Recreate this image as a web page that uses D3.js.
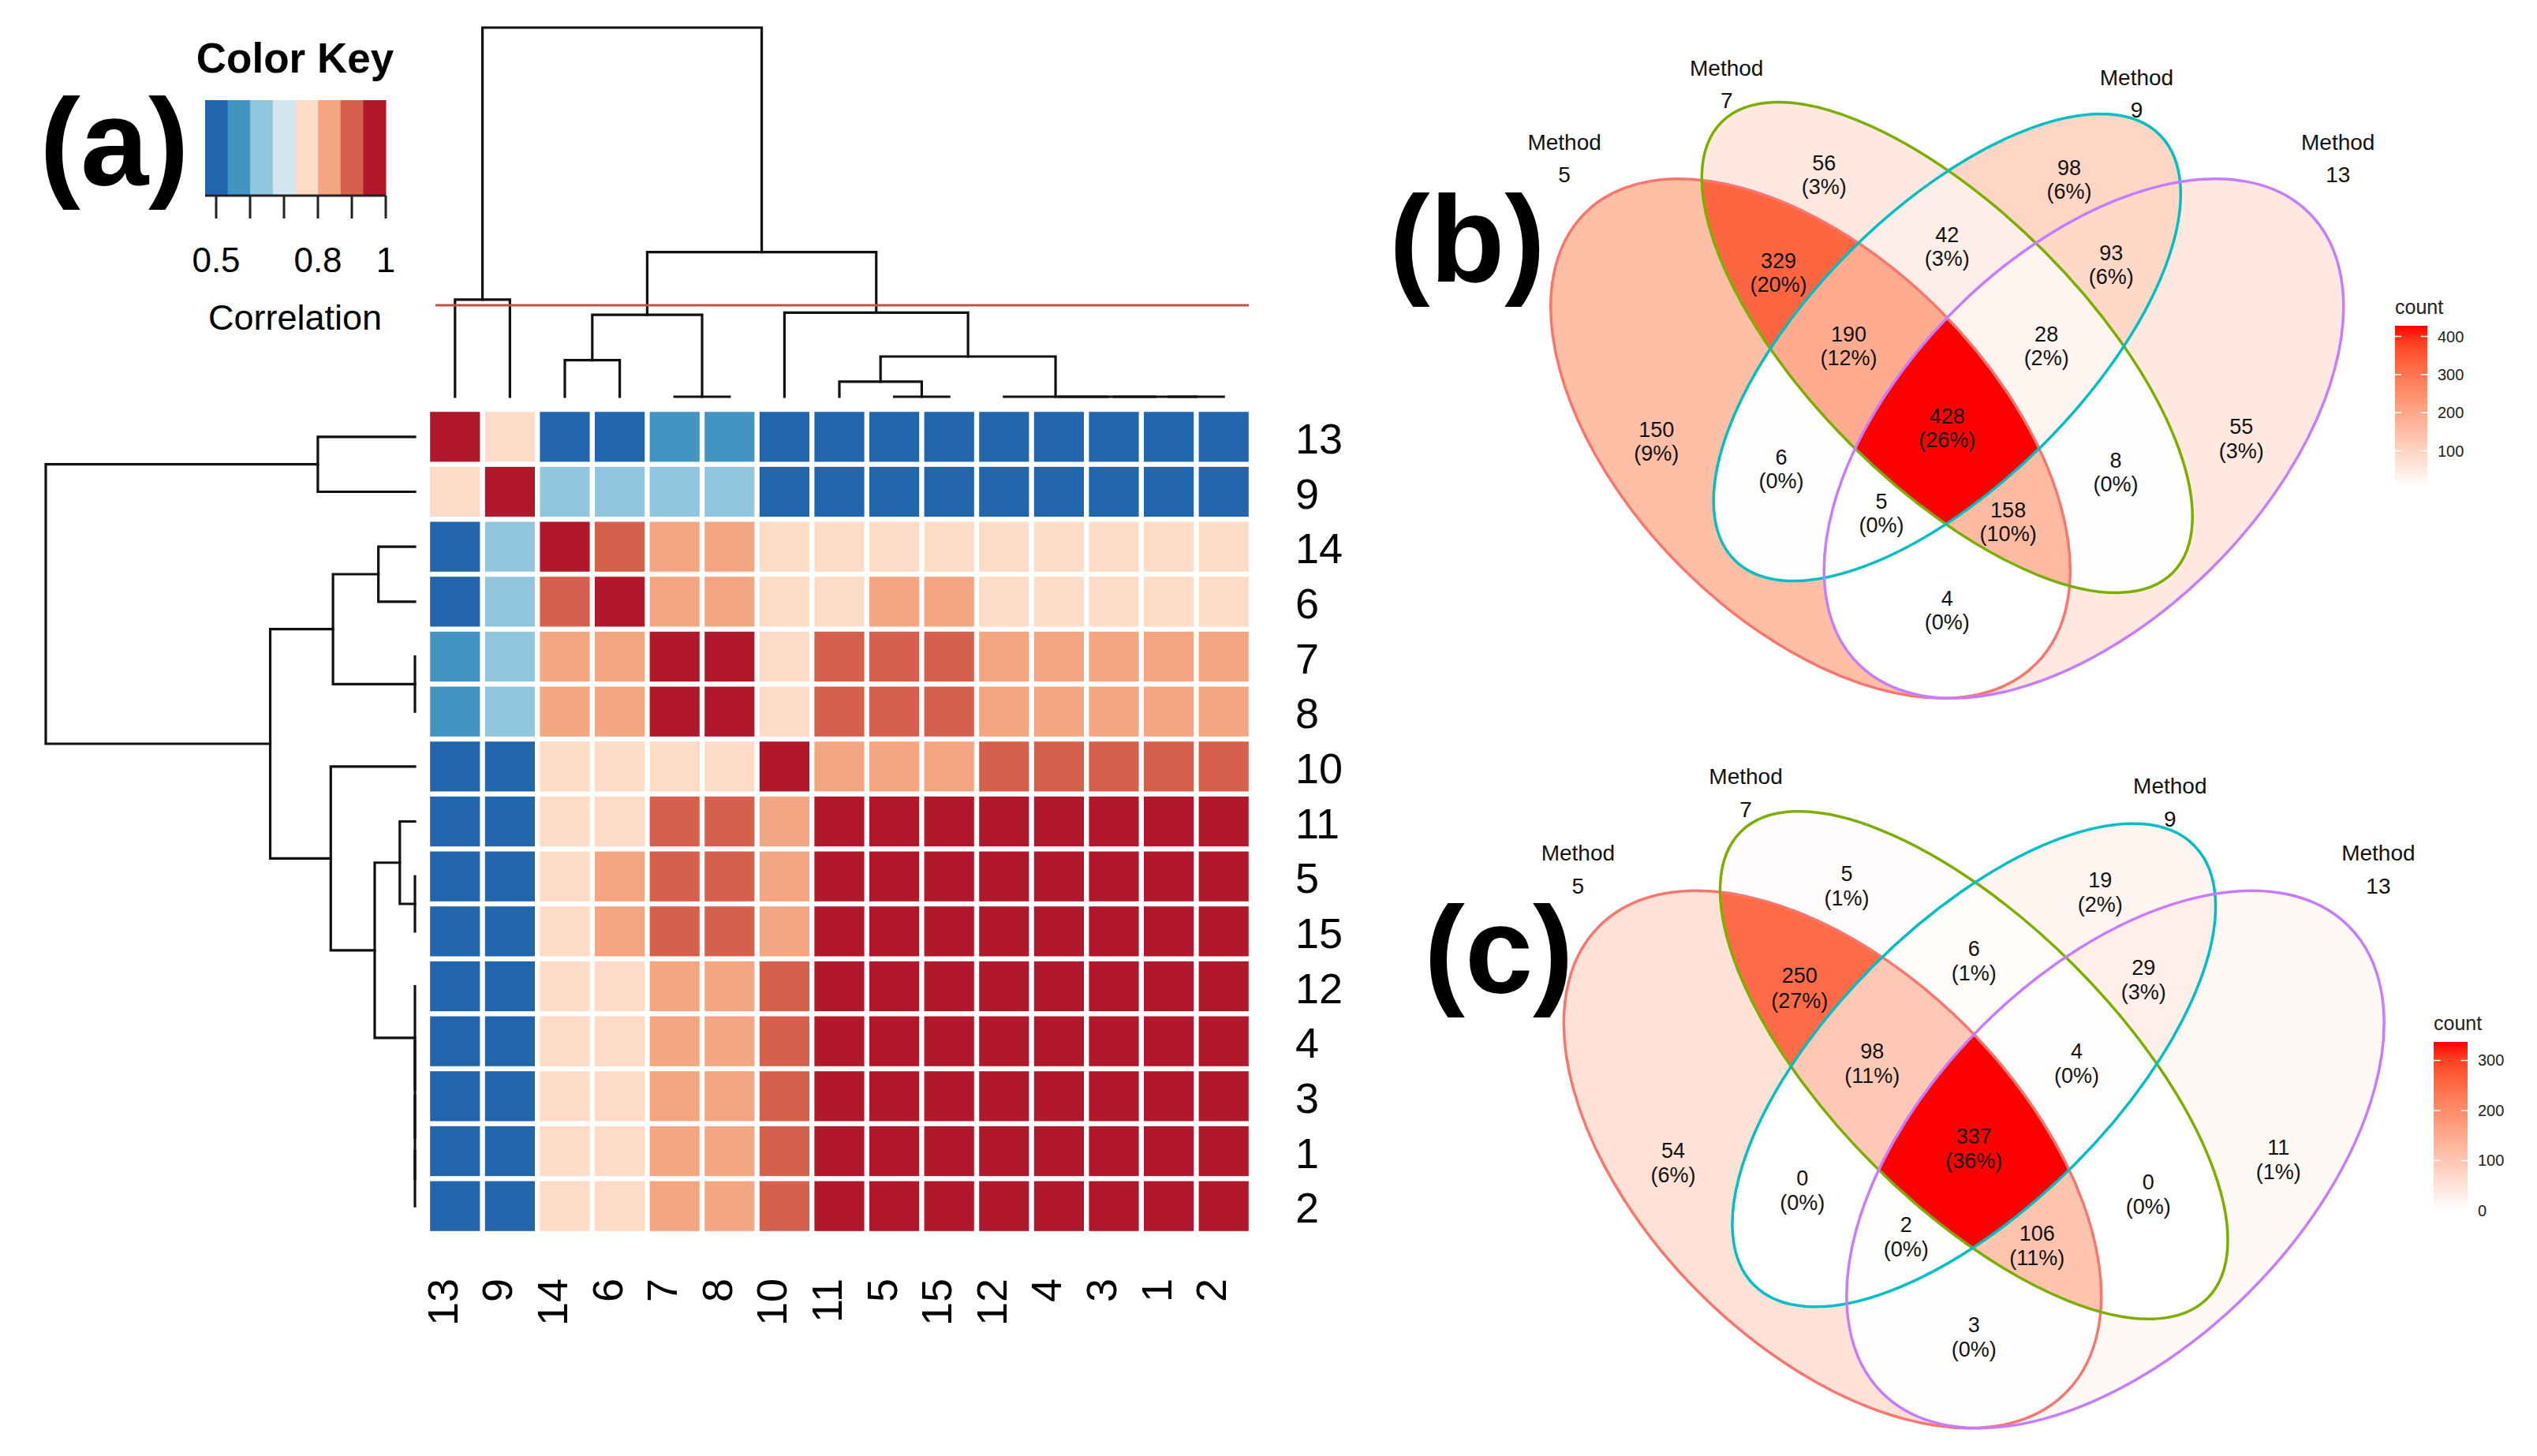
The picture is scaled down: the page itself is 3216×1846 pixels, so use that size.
<!DOCTYPE html>
<html><head><meta charset="utf-8">
<script src="https://cdn.jsdelivr.net/npm/d3@7"></script>
<style>body{margin:0;background:#fff}svg{display:block;font-family:"Liberation Sans",Arial,Helvetica,sans-serif}</style>
</head><body><svg id="fig" width="3216" height="1846"></svg>
<script>
// ---------------- DATA ----------------
const methods = ["13","9","14","6","7","8","10","11","5","15","12","4","3","1","2"];
const corr = [
 [1.00,0.77,0.50,0.50,0.57,0.57,0.50,0.50,0.50,0.50,0.50,0.50,0.50,0.50,0.50],
 [0.77,1.00,0.63,0.63,0.63,0.63,0.50,0.50,0.50,0.50,0.50,0.50,0.50,0.50,0.50],
 [0.50,0.63,1.00,0.90,0.83,0.83,0.77,0.77,0.77,0.77,0.77,0.77,0.77,0.77,0.77],
 [0.50,0.63,0.90,1.00,0.83,0.83,0.77,0.77,0.83,0.83,0.77,0.77,0.77,0.77,0.77],
 [0.57,0.63,0.83,0.83,1.00,0.97,0.77,0.90,0.90,0.90,0.83,0.83,0.83,0.83,0.83],
 [0.57,0.63,0.83,0.83,0.97,1.00,0.77,0.90,0.90,0.90,0.83,0.83,0.83,0.83,0.83],
 [0.50,0.50,0.77,0.77,0.77,0.77,1.00,0.83,0.83,0.83,0.90,0.90,0.90,0.90,0.90],
 [0.50,0.50,0.77,0.77,0.90,0.90,0.83,1.00,0.97,0.97,0.97,0.97,0.97,0.97,0.97],
 [0.50,0.50,0.77,0.83,0.90,0.90,0.83,0.97,1.00,0.97,0.97,0.97,0.97,0.97,0.97],
 [0.50,0.50,0.77,0.83,0.90,0.90,0.83,0.97,0.97,1.00,0.97,0.97,0.97,0.97,0.97],
 [0.50,0.50,0.77,0.77,0.83,0.83,0.90,0.97,0.97,0.97,1.00,0.97,0.97,0.97,0.97],
 [0.50,0.50,0.77,0.77,0.83,0.83,0.90,0.97,0.97,0.97,0.97,1.00,0.97,0.97,0.97],
 [0.50,0.50,0.77,0.77,0.83,0.83,0.90,0.97,0.97,0.97,0.97,0.97,1.00,0.97,0.97],
 [0.50,0.50,0.77,0.77,0.83,0.83,0.90,0.97,0.97,0.97,0.97,0.97,0.97,1.00,0.97],
 [0.50,0.50,0.77,0.77,0.83,0.83,0.90,0.97,0.97,0.97,0.97,0.97,0.97,0.97,1.00]
];
const keyColors = ["#2166ac","#4393c3","#92c5de","#d1e5f0","#fddbc7","#f4a582","#d6604d","#b2182b"];
const keyDomain = [0.4674, 1.0];
const keyTicks = [0.5,0.6,0.7,0.8,0.9,1.0];
const keyTickLabels = [0.5,0.8,1];
// dendrogram (merge heights, relative)
const dendroTree = {h:1.0, children:[
  {h:0.263, children:[{name:"13"},{name:"9"}]},
  {h:0.392, children:[
    {h:0.222, children:[
      {h:0.099, children:[{name:"14"},{name:"6"}]},
      {h:0, children:[{name:"7"},{name:"8"}]}]},
    {h:0.228, children:[
      {name:"10"},
      {h:0.109, children:[
        {h:0.041, children:[{name:"11"},{h:0, children:[{name:"5"},{name:"15"}]}]},
        {h:0, children:[{name:"12"},{h:0, children:[{name:"4"},{h:0, children:[{name:"3"},{h:0, children:[{name:"1"},{name:"2"}]}]}]}]}
      ]}
    ]}
  ]}
]};
const cutHeight = 0.248;

const vennSets = ["5","7","9","13"];
const vennRegions = ["A","B","C","D","AB","BC","CD","ABC","BCD","ABCD","AC","BD","ACD","ABD","AD"];
const countsB = [150,56,98,55,329,42,93,190,28,428,6,8,5,158,4];
const countsC = [54,5,19,11,250,6,29,98,4,337,0,0,2,106,3];
const legendTicksB = [100,200,300,400];
const legendTicksC = [0,100,200,300];

// ---------------- LAYOUT ----------------
const setColors = ["#F8766D","#7CAE00","#00BFC4","#C77CFF"];
const ellipses = [ [0.35,0.47,0.35,0.20,135],[0.50,0.57,0.35,0.15,135],[0.50,0.57,0.33,0.15,45],[0.65,0.47,0.35,0.20,45] ];
const regionPos = {A:[0.181,0.467],B:[0.365,0.760],C:[0.634,0.754],D:[0.823,0.470],AB:[0.315,0.652],BC:[0.5,0.681],
  CD:[0.680,0.661],ABC:[0.392,0.572],BCD:[0.609,0.572],ABCD:[0.5,0.482],AC:[0.318,0.437],BD:[0.685,0.433],
  ACD:[0.428,0.388],ABD:[0.567,0.379],AD:[0.5,0.282]};
const setLabelPos = [[0.080,0.778],[0.258,0.859],[0.708,0.849],[0.929,0.778]];

const svg = d3.select("#fig");
svg.append("rect").attr("width",3216).attr("height",1846).attr("fill","#fff");
const defs = svg.append("defs");

// ---------------- PANEL A ----------------
const xs = d3.scaleBand().domain(methods).range([542, 1586]);
const ys = d3.scaleBand().domain(methods).range([519, 1564]);
const bw = xs.bandwidth(), bh = ys.bandwidth();
const colorQ = d3.scaleQuantize().domain(keyDomain).range(keyColors);
const hm = svg.append("g");
corr.forEach((row, i) => {
  hm.selectAll(null).data(row).enter().append("rect")
    .attr("x", (d,j) => xs(methods[j]) + 3.2)
    .attr("y", ys(methods[i]) + 3.2)
    .attr("width", bw - 6.4).attr("height", bh - 6.4)
    .attr("fill", d => colorQ(d));
});
// labels
svg.append("g").selectAll("text").data(methods).enter().append("text")
  .attr("x", 1642).attr("y", d => ys(d) + bh/2 + 21)
  .attr("font-size", 54).text(d => d);
svg.append("g").selectAll("text").data(methods).enter().append("text")
  .attr("transform", d => `translate(${xs(d)+bw/2+3},1621) rotate(-90)`)
  .attr("text-anchor","end").attr("font-size", 54).text(d => d);

// dendrograms
const root = d3.hierarchy(dendroTree);
root.eachAfter(n => {
  if (!n.children) { n.pos = methods.indexOf(n.data.name); n.hh = 0; }
  else { n.pos = d3.mean(n.children, c => c.pos); n.hh = n.data.h; }
});
const colH = d3.scaleLinear().domain([0,1]).range([503, 35]);
const rowH = d3.scaleLinear().domain([0,1]).range([526, 58]);
const colPos = p => xs(methods[0]) + bw*(p+0.5);
const rowPos = p => ys(methods[0]) + bh*(p+0.5);
const internals = root.descendants().filter(n => n.children);
const dg = svg.append("g").attr("fill","none").attr("stroke","#111").attr("stroke-width",3.2).attr("stroke-linecap","square");
dg.selectAll("path.c").data(internals).enter().append("path")
  .attr("d", n => {const [a,b] = n.children;
    return `M${colPos(a.pos)},${colH(a.hh)}V${colH(n.hh)}H${colPos(b.pos)}V${colH(b.hh)}`;});
dg.selectAll("path.r").data(internals).enter().append("path")
  .attr("d", n => {const [a,b] = n.children;
    return `M${rowH(a.hh)},${rowPos(a.pos)}H${rowH(n.hh)}V${rowPos(b.pos)}H${rowH(b.hh)}`;});
svg.append("line").attr("x1",552).attr("x2",1583).attr("y1",colH(cutHeight)).attr("y2",colH(cutHeight))
  .attr("stroke","#c0504d").attr("stroke-width",3);

// color key
const kx = d3.scaleLinear().domain(keyDomain).range([260, 489]);
const kstep = (keyDomain[1]-keyDomain[0])/keyColors.length;
svg.append("g").selectAll("rect").data(keyColors).enter().append("rect")
  .attr("x",(d,i)=>kx(keyDomain[0]+i*kstep)).attr("y",127)
  .attr("width",(d,i)=>kx(keyDomain[0]+(i+1)*kstep)-kx(keyDomain[0]+i*kstep)+0.5).attr("height",121)
  .attr("fill",d=>d);
const kg = svg.append("g").attr("stroke","#222").attr("stroke-width",3);
kg.append("line").attr("x1",260).attr("x2",489).attr("y1",248).attr("y2",248);
kg.selectAll("line.t").data(keyTicks).enter().append("line")
  .attr("x1",d=>kx(d)).attr("x2",d=>kx(d)).attr("y1",248).attr("y2",277);
svg.append("g").selectAll("text").data(keyTickLabels).enter().append("text")
  .attr("x",d=>kx(d)).attr("y",345).attr("text-anchor","middle").attr("font-size",44).text(d=>d);
svg.append("text").attr("x",374).attr("y",92).attr("text-anchor","middle").attr("font-size",53).attr("font-weight","bold").text("Color Key");
svg.append("text").attr("x",374).attr("y",418).attr("text-anchor","middle").attr("font-size",45).text("Correlation");
svg.append("text").attr("x",145).attr("y",234).attr("text-anchor","middle").attr("font-size",155).attr("font-weight","bold").text("(a)");

// ---------------- VENN ----------------
function drawVenn(id, counts, T, legendTicks, leg, panelLabel) {
  const X = u => T.ox + u*T.s, Y = v => T.oy - v*T.s;
  const g = svg.append("g");
  const total = d3.sum(counts);
  const fill = d3.scaleLinear().domain(d3.extent(counts)).range(["#ffffff","#ff0000"]).interpolate(d3.interpolateLab);
  const ell = sel => sel.attr("cx",d=>X(d[0])).attr("cy",d=>Y(d[1])).attr("rx",d=>d[2]*T.s).attr("ry",d=>d[3]*T.s)
      .attr("transform",d=>`rotate(${-d[4]},${X(d[0])},${Y(d[1])})`);
  ellipses.forEach((e,i) => {
    defs.append("clipPath").attr("id",`cp-${id}-${i}`).append("ellipse").datum(e).call(ell);
  });
  vennRegions.forEach((r,k) => {
    const ins = [...r].map(c => c.charCodeAt(0)-65);
    const outs = [0,1,2,3].filter(i => !ins.includes(i));
    const m = defs.append("mask").attr("id",`mk-${id}-${r}`).attr("maskUnits","userSpaceOnUse")
      .attr("x",0).attr("y",0).attr("width",3216).attr("height",1846);
    m.append("rect").attr("width",3216).attr("height",1846).attr("fill","#fff");
    outs.forEach(o => m.append("ellipse").datum(ellipses[o]).call(ell).attr("fill","#000"));
    let node = g;
    ins.forEach(i => { node = node.append("g").attr("clip-path",`url(#cp-${id}-${i})`); });
    node.append("rect").attr("x",1700).attr("y",0).attr("width",1516).attr("height",1846)
      .attr("mask",`url(#mk-${id}-${r})`).attr("fill", fill(counts[k]));
  });
  g.selectAll("ellipse.o").data(ellipses).enter().append("ellipse").call(ell)
    .attr("fill","none").attr("stroke",(d,i)=>setColors[i]).attr("stroke-width",3.5);
  // region labels
  const off = 0.013*T.s;
  vennRegions.forEach((r,k) => {
    const [u,v] = regionPos[r];
    const t = g.append("text").attr("text-anchor","middle").attr("font-size",27).attr("fill","#111");
    t.append("tspan").attr("x",X(u)).attr("y",Y(v)-off+9.5).text(counts[k]);
    t.append("tspan").attr("x",X(u)).attr("y",Y(v)+off+9.5).text(`(${Math.round(counts[k]/total*100)}%)`);
  });
  // set labels
  const off2 = 0.0178*T.s;
  vennSets.forEach((s,i) => {
    const [u,v] = setLabelPos[i];
    const t = g.append("text").attr("text-anchor","middle").attr("font-size",28).attr("fill","#111");
    t.append("tspan").attr("x",X(u)).attr("y",Y(v)-off2+10).text("Method");
    t.append("tspan").attr("x",X(u)).attr("y",Y(v)+off2+10).text(s);
  });
  // legend
  const [mn, mx] = d3.extent(counts);
  const ly = d3.scaleLinear().domain([mn,mx]).range([leg.bottom, leg.top]);
  const gid = `gr-${id}`;
  const gr = defs.append("linearGradient").attr("id",gid).attr("x1",0).attr("x2",0).attr("y1",1).attr("y2",0);
  d3.range(0,1.0001,0.1).forEach(f => gr.append("stop").attr("offset",f).attr("stop-color",fill(mn+f*(mx-mn))));
  const lg = svg.append("g");
  if (leg.clip) {
    defs.append("clipPath").attr("id",`lc-${id}`).append("rect").attr("x",0).attr("y",0).attr("width",leg.clip).attr("height",1846);
    lg.attr("clip-path",`url(#lc-${id})`);
  }
  lg.append("rect").attr("x",leg.x).attr("y",leg.top).attr("width",leg.w).attr("height",leg.bottom-leg.top).attr("fill",`url(#${gid})`);
  lg.selectAll("line.a").data(legendTicks).enter().append("line")
    .attr("x1",leg.x).attr("x2",leg.x+leg.w/5).attr("y1",d=>ly(d)).attr("y2",d=>ly(d)).attr("stroke","#fff").attr("stroke-width",1.5);
  lg.selectAll("line.b").data(legendTicks).enter().append("line")
    .attr("x1",leg.x+leg.w*4/5).attr("x2",leg.x+leg.w).attr("y1",d=>ly(d)).attr("y2",d=>ly(d)).attr("stroke","#fff").attr("stroke-width",1.5);
  lg.selectAll("text.t").data(legendTicks).enter().append("text")
    .attr("x",leg.x+leg.w+13).attr("y",d=>ly(d)+7).attr("font-size",20).attr("fill","#222").text(d=>d);
  lg.append("text").attr("x",leg.x).attr("y",leg.top-15).attr("font-size",25).attr("fill","#222").text("count");
  svg.append("text").attr("x",panelLabel[0]).attr("y",panelLabel[1]).attr("text-anchor","middle")
    .attr("font-size",155).attr("font-weight","bold").text(panelLabel[2]);
}
drawVenn("b", countsB, {ox:1890.75, oy:1098.85, s:1155}, legendTicksB, {x:3036,w:41,top:413,bottom:618}, [1860,357,"(b)"]);
drawVenn("c", countsC, {ox:1904.75, oy:2031.65, s:1195}, legendTicksC, {x:3085,w:43,top:1321,bottom:1535,clip:3178}, [1900,1258,"(c)"]);
</script>
</body></html>
